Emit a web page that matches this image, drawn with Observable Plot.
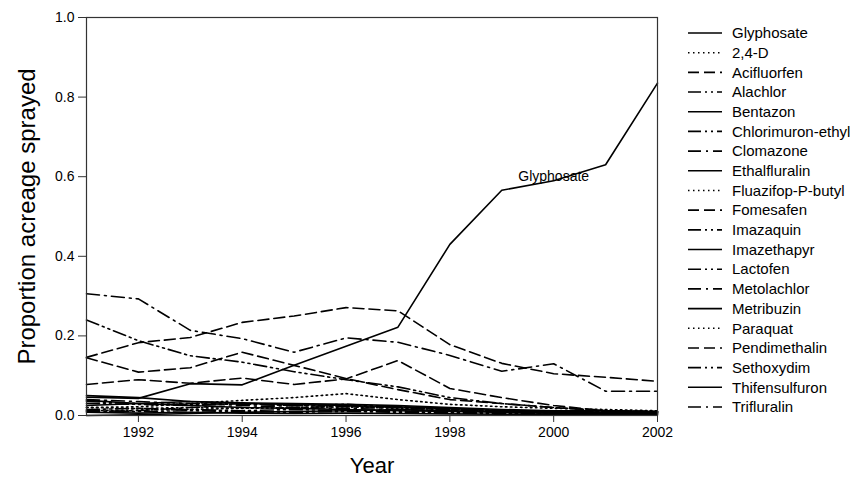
<!DOCTYPE html>
<html>
<head>
<meta charset="utf-8">
<script src="https://cdn.jsdelivr.net/npm/d3@7"></script>
<script src="https://cdn.jsdelivr.net/npm/@observablehq/plot@0.6"></script>
<style>
  body { margin: 0; background: #fff; }
  #chart { width: 858px; height: 485px; }
  svg { font-family: "Liberation Sans", Arial, sans-serif; }
</style>
</head>
<body>
<div id="chart"></div>
<script>
// ---- data ----
const years = [1991, 1992, 1993, 1994, 1995, 1996, 1997, 1998, 1999, 2000, 2001, 2002];
const herbicides = ["Glyphosate", "2,4-D", "Acifluorfen", "Alachlor", "Bentazon", "Chlorimuron-ethyl",
  "Clomazone", "Ethalfluralin", "Fluazifop-P-butyl", "Fomesafen", "Imazaquin", "Imazethapyr",
  "Lactofen", "Metolachlor", "Metribuzin", "Paraquat", "Pendimethalin", "Sethoxydim",
  "Thifensulfuron", "Trifluralin"];
const lineStyles = ["solid", "dotted", "dash", "dashDotDot", "solid", "dashDotDot", "dashDot",
  "solid", "dotted", "dash", "dashDotDot", "solid", "dashDotDot", "dashDot", "solid", "dotted",
  "dash", "dashDotDot", "solid", "dashDot"];

const glyphosate      = [0.046, 0.043, 0.080, 0.077, 0.126, 0.174, 0.222, 0.430, 0.566, 0.590, 0.630, 0.835];
const d24             = [0.012, 0.014, 0.015, 0.018, 0.020, 0.022, 0.018, 0.015, 0.012, 0.010, 0.008, 0.008];
const acifluorfen     = [0.145, 0.109, 0.120, 0.159, 0.126, 0.093, 0.065, 0.040, 0.030, 0.020, 0.012, 0.010];
const alachlor        = [0.240, 0.188, 0.150, 0.134, 0.110, 0.090, 0.072, 0.045, 0.030, 0.020, 0.012, 0.008];
const bentazon        = [0.050, 0.045, 0.035, 0.030, 0.028, 0.025, 0.022, 0.018, 0.012, 0.010, 0.008, 0.006];
const chlorimuron     = [0.030, 0.028, 0.025, 0.030, 0.025, 0.028, 0.022, 0.015, 0.012, 0.010, 0.010, 0.008];
const clomazone       = [0.010, 0.012, 0.020, 0.025, 0.020, 0.018, 0.015, 0.012, 0.008, 0.006, 0.005, 0.004];
const ethalfluralin   = [0.008, 0.006, 0.008, 0.006, 0.005, 0.006, 0.005, 0.004, 0.003, 0.003, 0.002, 0.002];
const fluazifop       = [0.020, 0.018, 0.020, 0.018, 0.020, 0.022, 0.020, 0.015, 0.012, 0.010, 0.008, 0.007];
const fomesafen       = [0.078, 0.090, 0.081, 0.094, 0.078, 0.092, 0.138, 0.068, 0.045, 0.025, 0.012, 0.010];
const imazaquin       = [0.035, 0.030, 0.028, 0.030, 0.025, 0.025, 0.020, 0.018, 0.012, 0.010, 0.008, 0.006];
const imazethapyr     = [0.025, 0.030, 0.035, 0.032, 0.030, 0.028, 0.025, 0.020, 0.015, 0.012, 0.012, 0.010];
const lactofen        = [0.015, 0.018, 0.015, 0.012, 0.015, 0.012, 0.010, 0.008, 0.006, 0.005, 0.004, 0.004];
const metolachlor     = [0.040, 0.035, 0.030, 0.028, 0.025, 0.022, 0.020, 0.015, 0.012, 0.010, 0.008, 0.008];
const metribuzin      = [0.038, 0.030, 0.025, 0.020, 0.018, 0.015, 0.012, 0.010, 0.008, 0.006, 0.005, 0.004];
const paraquat        = [0.020, 0.022, 0.030, 0.038, 0.045, 0.055, 0.040, 0.028, 0.022, 0.018, 0.015, 0.012];
const pendimethalin   = [0.146, 0.183, 0.196, 0.234, 0.250, 0.271, 0.263, 0.178, 0.131, 0.105, 0.096, 0.086];
const sethoxydim      = [0.012, 0.010, 0.012, 0.010, 0.008, 0.010, 0.008, 0.006, 0.005, 0.004, 0.004, 0.003];
const thifensulfuron  = [0.000, 0.002, 0.005, 0.008, 0.010, 0.012, 0.015, 0.012, 0.010, 0.008, 0.008, 0.006];
const trifluralin     = [0.306, 0.293, 0.214, 0.193, 0.159, 0.195, 0.184, 0.151, 0.111, 0.130, 0.061, 0.061];

const seriesValues = [glyphosate, d24, acifluorfen, alachlor, bentazon, chlorimuron, clomazone,
  ethalfluralin, fluazifop, fomesafen, imazaquin, imazethapyr, lactofen, metolachlor, metribuzin,
  paraquat, pendimethalin, sethoxydim, thifensulfuron, trifluralin];

const xTicks = [1992, 1994, 1996, 1998, 2000, 2002];
const yTicks = [0, 0.2, 0.4, 0.6, 0.8, 1.0];
const labelYears = [2000.0];
const labelValues = [0.60];
const labelTexts = ["Glyphosate"];
const xTitle = "Year";
const yTitle = "Proportion acreage sprayed";

// ---- build ----
const dashes = { solid: null, dotted: "1.5,3.5", dash: "11,5", dashDotDot: "13,4,2,4,2,4", dashDot: "13,5,2,5" };
const labels = labelTexts.map((t, i) => ({ year: labelYears[i], value: labelValues[i], text: t }));

const lineMarks = herbicides.map((h, i) =>
  Plot.line(years.map((y, j) => ({ year: y, value: seriesValues[i][j] })), {
    x: "year", y: "value", stroke: "#000", strokeWidth: 1.6,
    strokeDasharray: dashes[lineStyles[i]] || undefined
  })
);

const plot = Plot.plot({
  width: 858,
  height: 485,
  marginLeft: 86,
  marginRight: 201,
  marginTop: 17,
  marginBottom: 70,
  style: { fontFamily: "'Liberation Sans', Arial, sans-serif", background: "#fff" },
  x: { domain: [1991, 2002] },
  y: { domain: [0, 1] },
  marks: [
    ...lineMarks,
    Plot.frame({ stroke: "#333", strokeWidth: 1.2 }),
    Plot.axisX({ ticks: xTicks, tickFormat: d => String(d), tickSize: 7, tickPadding: 5, fontSize: 14, label: null, stroke: "#333" }),
    Plot.axisY({ ticks: yTicks, tickFormat: d3.format(".1f"), tickSize: 8, tickPadding: 4, fontSize: 14, label: null, stroke: "#333" }),
    Plot.text(labels, { x: "year", y: "value", text: "text", fontSize: 14, fill: "#000", textAnchor: "middle" }),
    Plot.text([xTitle], { frameAnchor: "bottom", dy: 50, fontSize: 22, fill: "#000", lineAnchor: "middle", textAnchor: "middle" }),
    Plot.text([yTitle], { frameAnchor: "left", dx: -59, rotate: -90, fontSize: 24, fill: "#000", lineAnchor: "middle", textAnchor: "middle" })
  ]
});

document.getElementById("chart").appendChild(plot);

// ---- legend (right side, same SVG) ----
const svg = d3.select(plot);
const lg = svg.append("g").attr("class", "legend").attr("text-anchor", "start");
const rowY = d3.scalePoint().domain(herbicides).range([33, 407]);
herbicides.forEach((h, i) => {
  const y = rowY(h);
  lg.append("line")
    .attr("x1", 688).attr("x2", 722).attr("y1", y).attr("y2", y)
    .attr("stroke", "#000").attr("stroke-width", 1.6)
    .attr("stroke-dasharray", dashes[lineStyles[i]] || null);
  lg.append("text")
    .attr("x", 732).attr("y", y).attr("dy", "0.35em")
    .attr("text-anchor", "start")
    .attr("font-size", 15).attr("fill", "#000")
    .text(h);
});
</script>
</body>
</html>
